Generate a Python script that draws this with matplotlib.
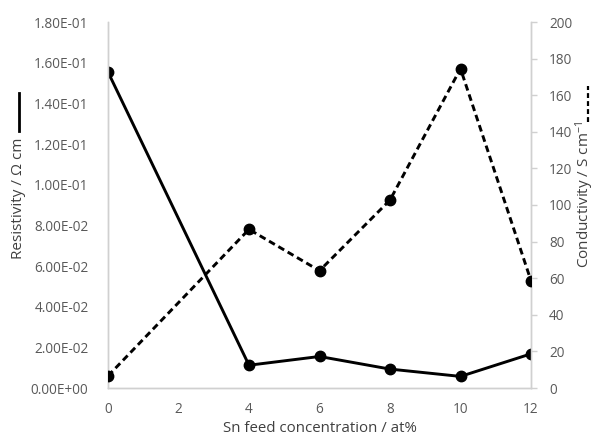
import matplotlib
matplotlib.use("Agg")
import matplotlib.pyplot as plt
from matplotlib.ticker import FuncFormatter
from matplotlib.lines import Line2D

plt.rcParams['font.family'] = ['Open Sans', 'DejaVu Sans']
plt.rcParams['mathtext.fontset'] = 'custom'
plt.rcParams['mathtext.rm'] = 'Open Sans'
plt.rcParams['mathtext.it'] = 'Open Sans'

# Data
sn_feed = [0, 4, 6, 8, 10, 12]
resistivity = [0.1554, 0.0112, 0.0155, 0.0093, 0.0057, 0.0168]
conductivity = [6.6, 86.7, 64.1, 102.7, 174.5, 58.6]

x_ticks = [0, 2, 4, 6, 8, 10, 12]
left_ticks = [0.00, 0.02, 0.04, 0.06, 0.08, 0.10, 0.12, 0.14, 0.16, 0.18]
right_ticks = [0, 20, 40, 60, 80, 100, 120, 140, 160, 180, 200]

gray_txt = '#595959'
gray_axis = '#d0d0d0'

fig = plt.figure(figsize=(5.97, 4.41), dpi=100)
ax1 = fig.add_axes([108/597, 1-388/441, (531-108)/597, (388-22)/441])
ax2 = ax1.twinx()

ax1.plot(sn_feed, resistivity, color='black', lw=2.1, marker='o', ms=7.5, zorder=3)
ax2.plot(sn_feed, conductivity, color='black', lw=2.1, marker='o', ms=7.5,
         dashes=(2.3, 1.4), zorder=3)

ax1.set_xlim(0, 12)
ax1.set_ylim(0, 0.18)
ax2.set_ylim(0, 200)
ax1.set_xticks(x_ticks)
ax1.set_yticks(left_ticks)
ax2.set_yticks(right_ticks)

ax1.yaxis.set_major_formatter(FuncFormatter(lambda v, pos: '%.2E' % v))

for ax in (ax1, ax2):
    for sp in ax.spines.values():
        sp.set_color(gray_axis)
        sp.set_linewidth(1.0)
    ax.spines['top'].set_visible(False)

ax1.tick_params(axis='x', length=0, pad=10, labelsize=9.8, labelcolor=gray_txt)
ax1.tick_params(axis='y', length=0, pad=14, labelsize=9.8, labelcolor=gray_txt)
ax2.tick_params(axis='y', length=4, width=1, color=gray_axis, direction='out',
                pad=9, labelsize=9.8, labelcolor=gray_txt)

ax1.set_xlabel('Sn feed concentration / at%', fontsize=10.8, color='#404040', labelpad=3)

# y labels with line keys
fig.text(19/597, 1-198/441, 'Resistivity / Ω cm', rotation=90, ha='center', va='center',
         fontsize=11, color='#404040')
fig.add_artist(Line2D([19/597, 19/597], [1-131/441, 1-93/441], color='black', lw=2.0))

fig.text(585/597, 1-194/441, 'Conductivity / S cm$^{-1}$', rotation=90, ha='center', va='center',
         fontsize=11, color='#404040')
fig.add_artist(Line2D([588/597, 588/597], [1-122/441, 1-86/441], color='black', lw=1.6,
                      dashes=(2.2, 1.4)))

fig.savefig('out.png', dpi=100)
